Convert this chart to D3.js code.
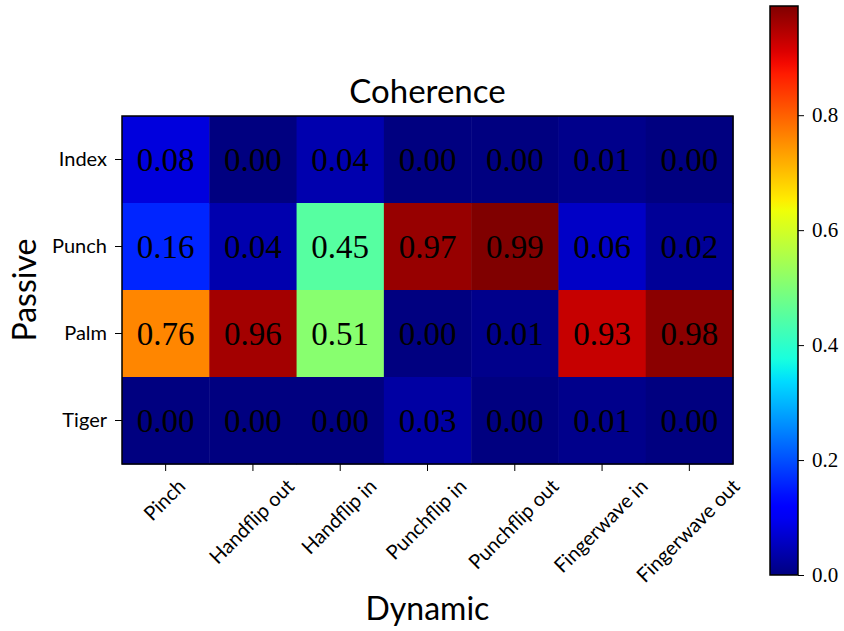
<!DOCTYPE html>
<html>
<head>
<meta charset="utf-8">
<script src="https://cdn.jsdelivr.net/npm/d3@7"></script>
<style>
  body { margin: 0; background: #fff; }
  svg { display: block; }
</style>
</head>
<body>
<script>
// data
const rows = ["Index", "Punch", "Palm", "Tiger"];
const cols = ["Pinch", "Handflip out", "Handflip in", "Punchflip in", "Punchflip out", "Fingerwave in", "Fingerwave out"];
const indexVals = [0.08, 0.00, 0.04, 0.00, 0.00, 0.01, 0.00];
const punchVals = [0.16, 0.04, 0.45, 0.97, 0.99, 0.06, 0.02];
const palmVals  = [0.76, 0.96, 0.51, 0.00, 0.01, 0.93, 0.98];
const tigerVals = [0.00, 0.00, 0.00, 0.03, 0.00, 0.01, 0.00];
const colorTicks = [0.0, 0.2, 0.4, 0.6, 0.8];
const vmin = 0, vmax = 0.99;

const matrix = [indexVals, punchVals, palmVals, tigerVals];
const cells = [];
matrix.forEach((r, i) => r.forEach((v, j) => cells.push({ row: rows[i], col: cols[j], value: v })));

const width = 844, height = 631;
const ax = { left: 122, right: 733, top: 116, bottom: 464 };
const cb = { left: 770, right: 798, top: 6, bottom: 575 };

const sans = "Lato, 'DejaVu Sans', sans-serif";
const serif = "'Liberation Serif', 'DejaVu Serif', serif";

// matplotlib jet colormap
const jetR = d3.scaleLinear().domain([0, 0.35, 0.66, 0.89, 1]).range([0, 0, 1, 1, 0.5]).clamp(true);
const jetG = d3.scaleLinear().domain([0, 0.125, 0.375, 0.64, 0.91, 1]).range([0, 0, 1, 1, 0, 0]).clamp(true);
const jetB = d3.scaleLinear().domain([0, 0.11, 0.34, 0.65, 1]).range([0.5, 1, 1, 0, 0]).clamp(true);
const norm = d3.scaleLinear().domain([vmin, vmax]).range([0, 1]).clamp(true);
const jet = v => {
  const t = norm(v);
  return d3.rgb(jetR(t) * 255, jetG(t) * 255, jetB(t) * 255).formatHex();
};

const svg = d3.select("body").append("svg")
  .attr("width", width)
  .attr("height", height);

const x = d3.scaleBand().domain(cols).range([ax.left, ax.right]);
const y = d3.scaleBand().domain(rows).range([ax.top, ax.bottom]);

// cells
svg.append("g").selectAll("rect")
  .data(cells)
  .join("rect")
  .attr("x", d => x(d.col))
  .attr("y", d => y(d.row))
  .attr("width", x.bandwidth() + 0.5)
  .attr("height", y.bandwidth() + 0.5)
  .attr("fill", d => jet(d.value));

// annotations
svg.append("g").selectAll("text")
  .data(cells)
  .join("text")
  .attr("x", d => x(d.col) + x.bandwidth() / 2)
  .attr("y", d => y(d.row) + y.bandwidth() / 2)
  .attr("dy", "0.34em")
  .attr("text-anchor", "middle")
  .style("font-family", serif)
  .style("font-size", "33px")
  .attr("fill", "#000")
  .text(d => d.value.toFixed(2));

// axes frame
svg.append("rect")
  .attr("x", ax.left).attr("y", ax.top)
  .attr("width", ax.right - ax.left).attr("height", ax.bottom - ax.top)
  .attr("fill", "none").attr("stroke", "#000").attr("stroke-width", 1.5);

// y axis
const yAxis = svg.append("g")
  .attr("transform", `translate(${ax.left},0)`)
  .call(d3.axisLeft(y).tickSize(7).tickPadding(8));
yAxis.select(".domain").remove();
yAxis.selectAll("text")
  .style("font-family", sans)
  .style("font-size", "20px")
  .attr("fill", "#000");

// x axis with rotated labels (bbox centred on the tick, like matplotlib)
const xAxis = svg.append("g")
  .attr("transform", `translate(0,${ax.bottom})`)
  .call(d3.axisBottom(x).tickSize(7));
xAxis.select(".domain").remove();
const fsX = 20, asc = 0.75 * fsX, desc = 0.22 * fsX, c45 = Math.SQRT1_2;
xAxis.selectAll(".tick text")
  .style("font-family", sans)
  .style("font-size", fsX + "px")
  .attr("fill", "#000")
  .attr("text-anchor", "end")
  .attr("dy", null)
  .each(function () {
    const L = this.getComputedTextLength();
    const cx = c45 * (desc - L - asc) / 2;
    const ax0 = -cx, ay0 = 13 + c45 * asc;
    d3.select(this)
      .attr("x", 0).attr("y", 0)
      .attr("transform", `translate(${ax0},${ay0}) rotate(-45)`);
  });

// titles
svg.append("text")
  .attr("x", (ax.left + ax.right) / 2)
  .attr("y", 103)
  .attr("text-anchor", "middle")
  .style("font-family", sans)
  .style("font-size", "33px")
  .text("Coherence");

svg.append("text")
  .attr("x", (ax.left + ax.right) / 2)
  .attr("y", 620)
  .attr("text-anchor", "middle")
  .style("font-family", sans)
  .style("font-size", "32px")
  .text("Dynamic");

svg.append("text")
  .attr("transform", `translate(36,${(ax.top + ax.bottom) / 2}) rotate(-90)`)
  .attr("text-anchor", "middle")
  .style("font-family", sans)
  .style("font-size", "32px")
  .text("Passive");

// colorbar
const defs = svg.append("defs");
const grad = defs.append("linearGradient")
  .attr("id", "jetgrad")
  .attr("x1", 0).attr("y1", 1).attr("x2", 0).attr("y2", 0);
d3.range(0, 1.0001, 0.02).forEach(t => {
  grad.append("stop")
    .attr("offset", t)
    .attr("stop-color", jet(vmin + t * (vmax - vmin)));
});

const cbScale = d3.scaleLinear().domain([vmin, vmax]).range([cb.bottom, cb.top]);
svg.append("rect")
  .attr("x", cb.left).attr("y", cb.top)
  .attr("width", cb.right - cb.left).attr("height", cb.bottom - cb.top)
  .attr("fill", "url(#jetgrad)")
  .attr("stroke", "#000").attr("stroke-width", 1.5);

const cbAxis = svg.append("g")
  .attr("transform", `translate(${cb.right},0)`)
  .call(d3.axisRight(cbScale).tickValues(colorTicks).tickFormat(d3.format(".1f")).tickSize(6).tickPadding(8));
cbAxis.select(".domain").remove();
cbAxis.selectAll("text")
  .style("font-family", serif)
  .style("font-size", "21px")
  .attr("fill", "#000");
</script>
</body>
</html>
